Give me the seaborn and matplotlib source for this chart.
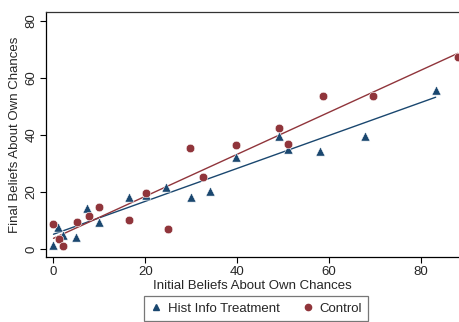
import numpy as np
import pandas as pd
import matplotlib
matplotlib.use("Agg")
import matplotlib.pyplot as plt
import seaborn as sns
from matplotlib.lines import Line2D

sns.set_style("ticks")
plt.rcParams["font.family"] = ["Liberation Sans", "DejaVu Sans"]

# Initial vs. final beliefs, historical-information treatment group
treat_initial = [0.0, 1.0, 2.1, 5.0, 7.4, 9.8, 16.4, 20.1, 24.6, 30.0, 34.1,
                 39.8, 49.0, 51.0, 58.1, 67.9, 83.2]
treat_final = [1.4, 7.9, 4.9, 4.3, 14.3, 9.7, 18.4, 19.1, 21.8, 18.3, 20.5,
               32.4, 39.6, 35.1, 34.3, 39.6, 55.6]

# Initial vs. final beliefs, control group
ctrl_initial = [0.0, 1.1, 2.1, 5.1, 7.7, 9.9, 16.4, 20.1, 25.0, 29.8, 32.6,
                39.7, 49.1, 51.0, 58.7, 69.5, 88.0]
ctrl_final = [8.8, 3.5, 1.2, 9.4, 11.6, 14.9, 10.3, 19.8, 7.2, 35.3, 25.2,
              36.5, 42.4, 36.7, 53.5, 53.6, 67.1]

group_labels = ["Hist Info Treatment", "Control"]
x_ticks = [0, 20, 40, 60, 80]
y_ticks = [0, 20, 40, 60, 80]

navy = "#1a476f"
maroon = "#90353b"

treat = pd.DataFrame({"initial": treat_initial, "final": treat_final})
ctrl = pd.DataFrame({"initial": ctrl_initial, "final": ctrl_final})

fig = plt.figure(figsize=(4.6, 3.22), dpi=100)
ax = fig.add_axes([0.0993, 0.2009, 0.9007, 0.7628])

sns.regplot(data=treat, x="initial", y="final", ax=ax, ci=None, marker="^",
            color=navy,
            scatter_kws={"s": 44, "edgecolor": "white", "linewidths": 0.4,
                         "alpha": 1, "zorder": 3},
            line_kws={"lw": 1.0, "zorder": 2})
sns.regplot(data=ctrl, x="initial", y="final", ax=ax, ci=None, marker="o",
            color=maroon,
            scatter_kws={"s": 38, "edgecolor": "white", "linewidths": 0.4,
                         "alpha": 1, "zorder": 3},
            line_kws={"lw": 1.0, "zorder": 2})

ax.set_xlim(-1.7, 88.5)
ax.set_ylim(-2.8, 83.1)
ax.set_xticks(x_ticks)
ax.set_yticks(y_ticks)
ax.tick_params(axis="both", labelsize=9.5, length=4, width=0.8, color="black",
               pad=2)
for lab in ax.get_yticklabels():
    lab.set_rotation(90)
    lab.set_va("center")

ax.set_xlabel("Initial Beliefs About Own Chances", fontsize=9.5, labelpad=2)
ax.set_ylabel("Final Beliefs About Own Chances", fontsize=9.5, labelpad=3)

for side in ["left", "bottom"]:
    ax.spines[side].set_color("black")
    ax.spines[side].set_linewidth(0.9)
ax.spines["top"].set_color("#333333")
ax.spines["top"].set_linewidth(0.9)
ax.spines["right"].set_visible(False)

handles = [
    Line2D([], [], marker="^", color=navy, linestyle="none", markersize=5),
    Line2D([], [], marker="o", color=maroon, linestyle="none", markersize=4.5),
]
leg = fig.legend(handles, group_labels, loc="upper center",
                 bbox_to_anchor=(0.556, 0.1), ncol=2, fontsize=9.5,
                 frameon=True, fancybox=False, handletextpad=0.4,
                 columnspacing=1.6, borderpad=0.45, handlelength=1.0)
leg.get_frame().set_edgecolor("#555555")
leg.get_frame().set_linewidth(0.9)

fig.savefig("out.png", dpi=100)
